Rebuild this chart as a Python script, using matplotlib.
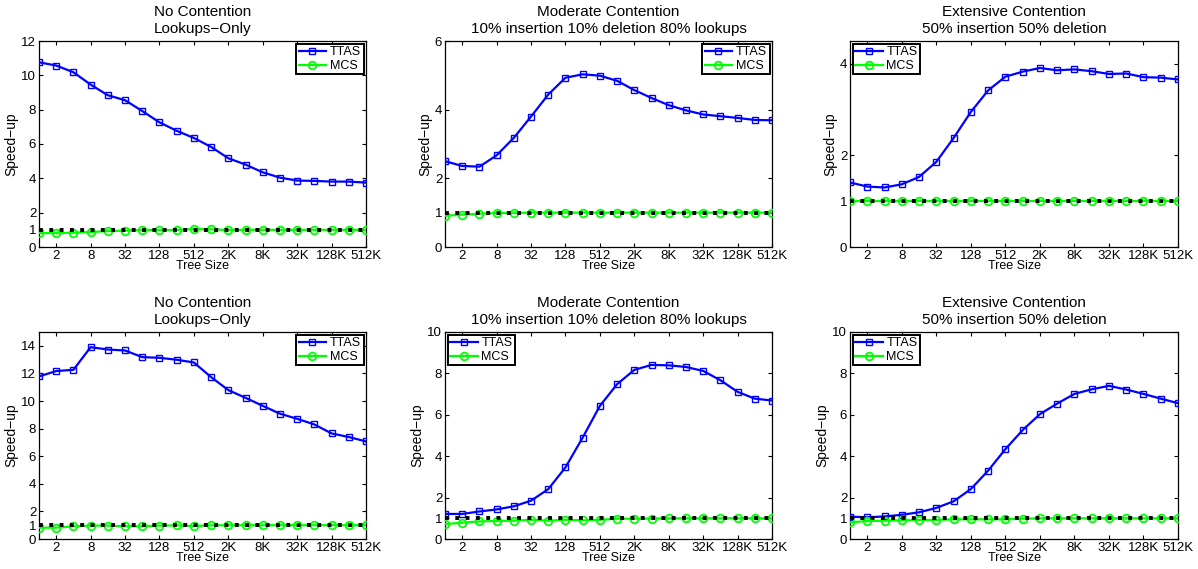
import matplotlib
matplotlib.use("Agg")
import matplotlib.pyplot as plt
import numpy as np

plt.rcParams['font.family'] = ['Liberation Sans', 'DejaVu Sans']

# x positions: tree sizes 1, 2, 4, ..., 512K (log2 index)
tree_sizes = [2 ** i for i in range(20)]
tick_labels = ['2', '8', '32', '128', '512', '2K', '8K', '32K', '128K', '512K']
tick_sizes = [2, 8, 32, 128, 512, 2048, 8192, 32768, 131072, 524288]

titles = [
    "No Contention\nLookups\u2212Only",
    "Moderate Contention\n10% insertion 10% deletion 80% lookups",
    "Extensive Contention\n50% insertion 50% deletion",
    "No Contention\nLookups\u2212Only",
    "Moderate Contention\n10% insertion 10% deletion 80% lookups",
    "Extensive Contention\n50% insertion 50% deletion",
]

ttas_1 = [10.76, 10.57, 10.18, 9.46, 8.84, 8.55, 7.92, 7.26, 6.77, 6.35,
          5.83, 5.17, 4.80, 4.35, 4.04, 3.87, 3.85, 3.81, 3.81, 3.75]
mcs_1 = [0.81, 0.81, 0.83, 0.87, 0.93, 0.95, 0.99, 0.99, 0.99, 1.05,
         1.03, 0.99, 1.0, 1.0, 1.0, 1.0, 1.0, 1.0, 1.0, 1.0]

ttas_2 = [2.50, 2.36, 2.34, 2.67, 3.18, 3.80, 4.44, 4.93, 5.03, 4.99,
          4.84, 4.57, 4.34, 4.13, 3.98, 3.86, 3.81, 3.76, 3.70, 3.69]
mcs_2 = [0.91, 0.94, 0.97, 0.99, 0.99, 1.0, 1.0, 1.0, 1.0, 1.0,
         1.0, 1.0, 1.0, 1.0, 1.0, 1.0, 1.0, 1.0, 1.0, 1.0]

ttas_3 = [1.41, 1.32, 1.30, 1.37, 1.53, 1.86, 2.38, 2.95, 3.42, 3.72,
          3.83, 3.91, 3.86, 3.88, 3.84, 3.78, 3.79, 3.71, 3.70, 3.66]
mcs_3 = [1.0] * 20

ttas_4 = [11.78, 12.17, 12.26, 13.90, 13.73, 13.66, 13.18, 13.13, 12.99, 12.79,
          11.73, 10.79, 10.23, 9.65, 9.08, 8.71, 8.30, 7.65, 7.39, 7.07]
mcs_4 = [0.82, 0.82, 0.92, 0.97, 0.97, 0.92, 0.92, 0.97, 0.99, 0.94,
         0.99, 1.0, 1.0, 1.0, 1.0, 1.0, 1.0, 1.0, 1.0, 1.0]

ttas_5 = [1.21, 1.21, 1.33, 1.43, 1.58, 1.85, 2.41, 3.46, 4.90, 6.43,
          7.48, 8.17, 8.41, 8.39, 8.31, 8.12, 7.67, 7.11, 6.78, 6.69]
mcs_5 = [0.72, 0.79, 0.85, 0.87, 0.88, 0.93, 0.88, 0.93, 0.90, 0.93,
         0.98, 0.98, 0.99, 1.0, 1.0, 1.0, 1.0, 1.0, 1.0, 1.0]

ttas_6 = [1.08, 1.05, 1.09, 1.17, 1.29, 1.50, 1.82, 2.41, 3.30, 4.34,
          5.26, 6.03, 6.54, 7.01, 7.23, 7.40, 7.22, 7.01, 6.78, 6.56]
mcs_6 = [0.80, 0.87, 0.88, 0.90, 0.92, 0.92, 0.95, 0.95, 0.95, 0.95,
         0.98, 1.0, 1.0, 1.0, 1.0, 1.0, 1.0, 1.0, 1.0, 1.0]

baseline = [1.0, 1.0]

ttas_all = [ttas_1, ttas_2, ttas_3, ttas_4, ttas_5, ttas_6]
mcs_all = [mcs_1, mcs_2, mcs_3, mcs_4, mcs_5, mcs_6]
ylims = [12, 6, 4.5, 15, 10, 10]
yticks_all = [
    [0, 1, 2, 4, 6, 8, 10, 12],
    [0, 1, 2, 4, 6],
    [0, 1, 2, 4],
    [0, 1, 2, 4, 6, 8, 10, 12, 14],
    [0, 1, 2, 4, 6, 8, 10],
    [0, 1, 2, 4, 6, 8, 10],
]
legend_locs = ['upper right', 'upper right', 'upper left',
               'upper right', 'upper left', 'upper left']

W, H = 1198, 569
fig = plt.figure(figsize=(W / 100, H / 100), dpi=100)

lefts = [39, 445, 850]
rights = [366, 772, 1178]
tops = [41, 332]
bottoms = [247, 539]

for k in range(6):
    r, c = divmod(k, 3)
    l, rr = lefts[c], rights[c]
    t, b = tops[r], bottoms[r]
    ax = fig.add_axes([l / W, 1 - b / H, (rr - l) / W, (b - t) / H])
    x = np.log2(tree_sizes)
    ax.plot(x, ttas_all[k], '-s', color='#0000ff', lw=1.6, ms=5,
            mfc='none', mec='#0000ff', mew=1.0, label='TTAS', zorder=3)
    ax.plot(x, mcs_all[k], '-o', color='#00ff00', lw=1.6, ms=5.5,
            mfc='none', mec='#00ff00', mew=1.3, label='MCS', zorder=3)
    ax.plot([x[0], x[-1]], baseline, ':', color='black', lw=2.8, zorder=4)
    ax.set_xlim(x[0], x[-1])
    ax.set_ylim(0, ylims[k])
    ax.set_xticks(np.log2(tick_sizes))
    ax.set_xticklabels(tick_labels)
    ax.set_yticks(yticks_all[k])
    ax.tick_params(direction='in', top=True, right=True, labelsize=9.5,
                   length=3, width=0.8, pad=2)
    ax.set_xlabel('Tree Size', fontsize=9, labelpad=-1)
    ax.set_ylabel('Speed\u2212up', fontsize=10, labelpad=2)
    ax.set_title(titles[k], fontsize=11, pad=6, linespacing=1.25)
    for s in ax.spines.values():
        s.set_linewidth(0.9)
    leg = ax.legend(loc=legend_locs[k], fontsize=9, fancybox=False,
                    framealpha=1, edgecolor='black', borderpad=0.2,
                    handlelength=2.2, handletextpad=0.3, labelspacing=0.15,
                    borderaxespad=0.2)
    leg.get_frame().set_linewidth(1.4)

fig.savefig('out.png', dpi=100)
